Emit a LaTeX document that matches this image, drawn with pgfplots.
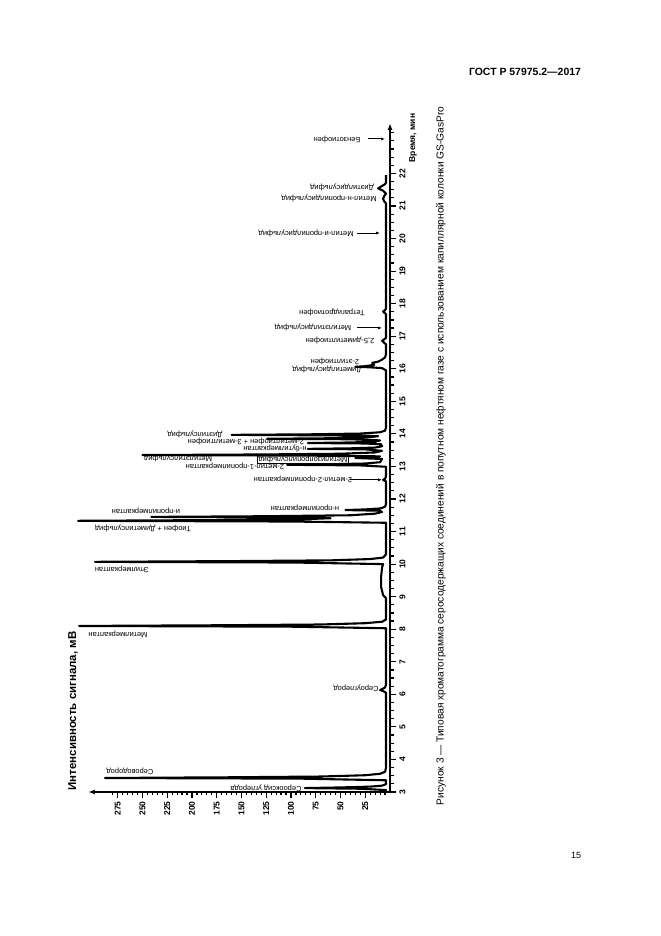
\documentclass[border=0pt]{standalone}
\usepackage{fontspec}
\setmainfont{Liberation Sans}
\usepackage{pgfplots}
\pgfplotsset{compat=1.18}
\usetikzlibrary{arrows.meta}
\newcommand\lab{\fontsize{7.5}{8}\selectfont}
\begin{document}
\begin{tikzpicture}[x=1bp,y=1bp]
\path[use as bounding box, fill=white] (0,0) rectangle (661,936);
\begin{axis}[
  at={(239bp,478.5bp)}, anchor=center,
  scale only axis, width=302bp, height=669bp,
  xmin=0, xmax=305, ymin=3, ymax=23.55,
  x dir=reverse,
  axis x line=bottom, axis y line=right,
  every outer x axis line/.append style={line width=1.5bp, -{Latex[length=7bp,width=5bp]}},
  every outer y axis line/.append style={line width=1.5bp, -{Latex[length=7bp,width=5bp]}},
  tick align=outside,
  major tick length=6bp, minor tick length=3.5bp,
  every tick/.style={black, line width=1.2bp},
  xtick={25,50,...,275},
  minor xtick={5,10,...,280},
  ytick={3,4,...,22},
  minor ytick={3.25,3.5,...,23.25},
  /pgf/number format/assume math mode=true,
  ticklabel style={font=\bfseries\fontsize{8.5}{9}\selectfont},
  xticklabel style={rotate=90, anchor=east},
  yticklabel style={rotate=90, anchor=north},
  clip=false,
]
\addplot[black, line width=2.1bp, line join=round, mark=none] coordinates {
(4,3.0)
(4,3.06)(30,3.1)(86,3.12)(50,3.14)(20,3.165)(8,3.195)(4,3.24)
(4,3.36)(90,3.41)(288,3.43)(160,3.452)(70,3.475)(25,3.515)(10,3.56)(5,3.62)(4,3.75)
(4,6.05)(7,6.1)(10,6.13)(8,6.16)(5,6.21)(4,6.3)
(4,8.03)(100,8.078)(314,8.1)(170,8.122)(70,8.145)(25,8.185)(8,8.23)(4,8.3)
(4,8.95)(7,9.05)(9,9.3)(9,9.6)(8,9.9)(7,10.0)
(96,10.048)(298,10.07)(160,10.092)(60,10.115)(20,10.155)(7,10.2)(4,10.3)
(4,11.27)(100,11.308)(315,11.33)(180,11.352)(90,11.375)(60,11.41)(80,11.43)(241,11.45)(130,11.47)(40,11.5)(15,11.55)(8,11.6)(10,11.64)(45,11.66)(25,11.68)(10,11.71)(5,11.76)(4,11.85)
(4,12.54)(6,12.57)(7,12.59)(5,12.62)(4,12.7)
(4,12.99)(30,13.032)(104,13.05)(60,13.068)(25,13.09)(10,13.13)(8,13.23)(35,13.26)(18,13.28)(10,13.31)(80,13.332)(250,13.35)(130,13.368)(50,13.39)(15,13.43)(8,13.48)(25,13.525)(83,13.54)(40,13.556)(15,13.58)(8,13.62)(9,13.68)(25,13.705)(83,13.72)(40,13.736)(15,13.76)(10,13.8)(40,13.835)(124,13.85)(60,13.866)(20,13.9)(12,13.93)(50,13.953)(160,13.97)(80,13.987)(30,14.01)(10,14.05)(5,14.1)(4,14.2)
(4,15.95)(8,16.02)(20,16.045)(35,16.06)(25,16.08)(16,16.12)(18,16.18)(12,16.22)(8,16.28)(5,16.35)(4,16.45)
(4,16.75)(6,16.8)(8,16.86)(6,16.9)(4,16.95)
(4,17.68)(6,17.73)(7,17.76)(5,17.8)(4,17.85)
(4,21.08)(6,21.15)(7,21.22)(6,21.3)(4,21.38)(7,21.47)(12,21.54)(9,21.6)(5,21.67)(4,21.72)(4,21.95)
};
\begin{scope}[every node/.style={rotate=180, font=\lab, inner sep=0.5bp}]
\node at (axis cs:125.3,3.12) {Серооксид углерода};
\node at (axis cs:262.6,3.645) {Сероводород};
\node at (axis cs:34.3,6.195) {Сероуглерод};
\node at (axis cs:274.7,7.854) {Метилмеркаптан};
\node at (axis cs:270.7,9.851) {Этилмеркаптан};
\node at (axis cs:249.5,11.11) {Тиофен + Диметилсульфид};
\node at (axis cs:246.5,11.633) {и-пропилмеркаптан};
\node at (axis cs:85.9,11.725) {н-пропилмеркаптан};
\node at (axis cs:87.9,12.616) {2-метил-2-пропилмеркаптан};
\node at (axis cs:156.6,13.015) {2-метил-1-пропилмеркаптан};
\node at (axis cs:214.1,13.26) {Метилэтилсульфид};
\node[draw, line width=0.5bp, inner sep=1bp] at (axis cs:87.9,13.23) {Метилизопропилсульфид};
\node at (axis cs:116.2,13.54) {н-бутилмеркаптан};
\node at (axis cs:145.5,13.78) {2-метилтиофен + 3-метилтиофен};
\node at (axis cs:197,13.97) {Диэтилсульфид};
\node at (axis cs:63.6,15.995) {Диметилдисульфид};
\node at (axis cs:55.6,16.24) {2-этилтиофен};
\node at (axis cs:50.5,16.856) {2,5-диметилтиофен};
\node at (axis cs:77.8,17.255) {Метилэтилдисульфид};
\node at (axis cs:58.6,17.746) {Тетрагидротиофен};
\node at (axis cs:84.8,20.17) {Метил-и-пропилдисульфид};
\node at (axis cs:61.6,21.22) {Метил-н-пропилдисульфид};
\node at (axis cs:48.5,21.58) {Диэтилдисульфид};
\node at (axis cs:53.5,23.06) {Бензотиофен};
\end{scope}
\begin{scope}[line width=0.9bp, -{Latex[length=4bp,width=3bp]}]
\draw (axis cs:40,12.59) -- (axis cs:8,12.59);
\draw (axis cs:33.5,17.255) -- (axis cs:8,17.255);
\draw (axis cs:33.5,20.17) -- (axis cs:10,20.17);
\draw (axis cs:22.5,23.06) -- (axis cs:5,23.06);
\end{scope}
\end{axis}
\node[font=\bfseries\fontsize{10.5}{12}\selectfont] at (525,864) {ГОСТ Р 57975.2—2017};
\node[font=\fontsize{9}{10}\selectfont] at (576,81) {15};
\node[rotate=90, font=\fontsize{10.2}{12}\selectfont] at (441,480) {Рисунок 3 — Типовая хроматограмма серосодержащих соединений в попутном нефтяном газе с использованием капиллярной колонки GS-GasPro};
\node[rotate=90, font=\bfseries\fontsize{11.5}{13}\selectfont] at (73,225) {Интенсивность сигнала, мВ};
\node[rotate=90, font=\bfseries\fontsize{8.5}{9}\selectfont] at (413,798) {Время, мин};
\end{tikzpicture}
\end{document}
